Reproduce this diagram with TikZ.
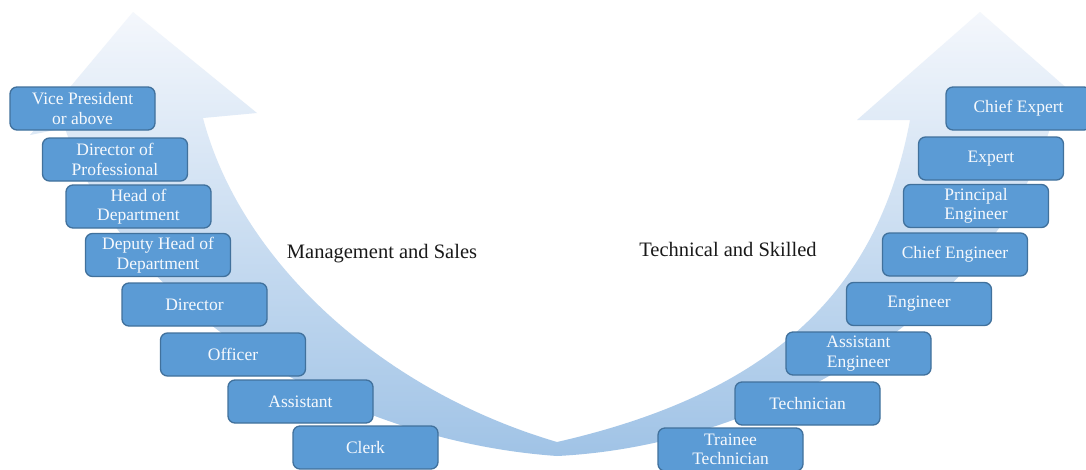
\documentclass[tikz,border=0pt]{standalone}
\usepackage{fontspec}
\setmainfont{Liberation Serif}
\definecolor{boxfill}{RGB}{91,155,213}
\definecolor{boxline}{RGB}{65,113,156}
\definecolor{bandtop}{RGB}{244,247,252}
\definecolor{bandbot}{RGB}{160,195,230}
\definecolor{boxtext}{RGB}{246,249,253}
\begin{document}
\begin{tikzpicture}[x=1pt,y=-1pt,
  rank/.style={draw=boxline, line width=1.3pt, fill=boxfill, rounded corners=7pt,
    minimum width=145pt, minimum height=43pt, inner sep=0pt, align=center,
    text=boxtext, font=\fontsize{17.5}{19.5}\selectfont},
  track/.style={font=\fontsize{20.5}{24}\selectfont, text=black!90, inner sep=0pt}]
\path[use as bounding box] (0,0) rectangle (1086,469);
\clip (0,0) rectangle (1086,469);
\fill[white] (0,0) rectangle (1086,469);
% U-shaped double arrow band
\shade[top color=bandtop, bottom color=bandbot]
  (133,12) -- (257,113) -- (203,118)
  .. controls (240,260) and (380,390) .. (557,442)
  .. controls (785,390) and (880,280) .. (910,120)
  -- (857,120) -- (980,12) -- (1103,120) -- (1052,122)
  .. controls (1000,300) and (780,445) .. (557,456)
  .. controls (330,440) and (120,300) .. (65,128)
  -- (30,135) -- cycle;
% left column
\node[rank] (vp)    at (82.5,108.5) {Vice President\\or above};
\node[rank] (dop)   at (115,159.5)  {Director of\\Professional};
\node[rank] (hod)   at (138.5,206.5){Head of\\Department};
\node[rank] (dhod)  at (158,255)    {Deputy Head of\\Department};
\node[rank] (dir)   at (194.5,304.5){Director};
\node[rank] (off)   at (233,354.5)  {Officer};
\node[rank] (asst)  at (300.5,401.5){Assistant};
\node[rank] (clerk) at (365.5,447.5){Clerk};
% right column
\node[rank] (cex)   at (1018.5,108.5){Chief Expert};
\node[rank] (exp)   at (991,158.5)  {Expert};
\node[rank] (peng)  at (976,206)    {Principal\\Engineer};
\node[rank] (ceng)  at (955,254.5)  {Chief Engineer};
\node[rank] (eng)   at (919,304)    {Engineer};
\node[rank] (aeng)  at (858.5,353.5){Assistant\\Engineer};
\node[rank] (tech)  at (807.5,403.5){Technician};
\node[rank] (tt)    at (730.5,449.5){Trainee\\Technician};
% track labels
\node[track] (mgmt) at (382,254) {Management and Sales};
\node[track] (tsk)  at (728,249) {Technical and Skilled};
\end{tikzpicture}
\end{document}
